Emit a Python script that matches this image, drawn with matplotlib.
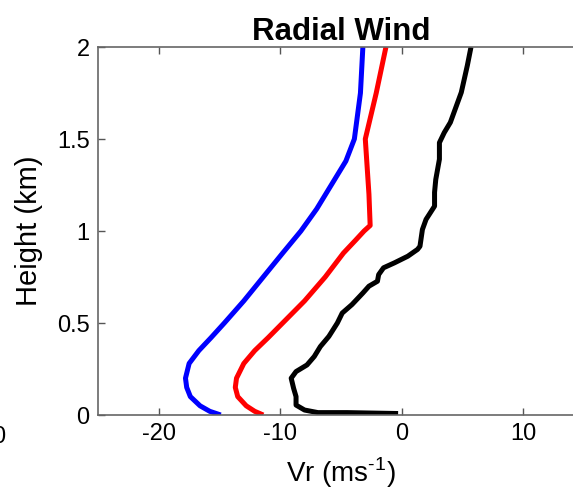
import matplotlib
matplotlib.use("Agg")
import matplotlib.pyplot as plt

plt.rcParams["font.family"] = ["Liberation Sans", "DejaVu Sans"]
plt.rcParams["axes.unicode_minus"] = False
plt.rcParams["mathtext.fontset"] = "custom"
plt.rcParams["mathtext.rm"] = "Liberation Sans"

# heights (km) and radial wind (m/s)
h_blue = [0.0, 0.02, 0.05, 0.1, 0.15, 0.2, 0.28, 0.35, 0.42, 0.5, 0.62, 0.75, 0.88, 1.0, 1.12,
          1.25, 1.38, 1.5, 1.75, 2.0]
vr_blue = [-14.9, -15.8, -16.6, -17.4, -17.7, -17.8, -17.5, -16.7, -15.7, -14.6, -13.0, -11.4, -9.8, -8.3, -7.0,
           -5.8, -4.6, -3.9, -3.4, -3.2]

h_red = [0.0, 0.02, 0.05, 0.1, 0.15, 0.2, 0.28, 0.35, 0.42, 0.5, 0.62, 0.75, 0.88, 0.95, 1.0,
         1.03, 1.2, 1.4, 1.5, 1.75, 2.0]
vr_red = [-11.4, -12.1, -12.8, -13.5, -13.7, -13.6, -13.0, -12.1, -11.0, -9.8, -8.0, -6.3, -4.8, -3.8, -3.1,
          -2.6, -2.7, -2.9, -3.0, -2.1, -1.3]

h_black = [0.008, 0.013, 0.013, 0.027, 0.054, 0.10, 0.145, 0.20, 0.236, 0.272, 0.318, 0.372, 0.427, 0.50,
           0.554, 0.60, 0.663, 0.70, 0.727, 0.763, 0.80, 0.827, 0.863, 0.90, 0.917, 1.008, 1.063,
           1.135, 1.21, 1.28, 1.39, 1.48, 1.535, 1.59, 1.753, 1.90, 2.0]
vr_black = [-0.3, -4.5, -6.9, -8.0, -8.7, -8.7, -8.9, -9.1, -8.7, -7.8, -7.2, -6.7, -6.0, -5.3,
            -4.9, -4.1, -3.2, -2.7, -2.0, -1.9, -1.5, -0.6, 0.5, 1.3, 1.5, 1.7, 2.0,
            2.7, 2.7, 2.8, 3.1, 3.1, 3.5, 4.0, 4.9, 5.4, 5.7]

fig = plt.figure(figsize=(5.73, 4.96), dpi=100)
ax = fig.add_axes([98 / 573, 1 - 415 / 496, 486 / 573, 368 / 496])

lw = 3.6
for x, y, c in ((vr_blue, h_blue, "#0000ff"), (vr_red, h_red, "#ff0000"), (vr_black, h_black, "black")):
    ax.plot(x, y, color=c, lw=lw, solid_joinstyle="round", solid_capstyle="butt")

ax.set_xlim(-25, 15)
ax.set_ylim(0, 2)
ax.set_xticks([-20, -10, 0, 10])
ax.set_yticks([0, 0.5, 1, 1.5, 2])
ax.set_yticklabels(["0", "0.5", "1", "1.5", "2"])
ax.tick_params(direction="in", top=True, right=True, length=5, width=1,
               color="#555555", labelsize=17, pad=6)
for s in ax.spines.values():
    s.set_color("#666666")
    s.set_linewidth(1.2)

ax.set_title("Radial Wind", fontsize=22.5, fontweight="bold", pad=5)
ax.set_xlabel(r"Vr (ms$^{\text{-1}}$)", fontsize=20, labelpad=7)
ax.set_ylabel("Height (km)", fontsize=21, labelpad=10)

# leftover tick label from the neighbouring panel
fig.text(5 / 573, 1 - 437 / 496, "0", ha="right", va="center", fontsize=17)

fig.savefig("out.png", dpi=100)
